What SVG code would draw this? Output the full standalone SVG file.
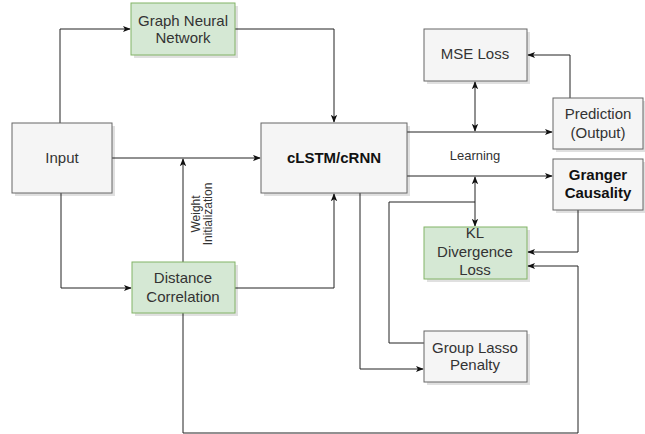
<svg xmlns="http://www.w3.org/2000/svg" width="645" height="434" viewBox="0 0 645 434">
<style>
.g rect.b{fill:#f5f5f5;stroke:#666666;stroke-width:1}
.gr rect.b{fill:#d5e8d4;stroke:#82b366;stroke-width:1}
rect.s{fill:#000;opacity:0.12}
text{font-family:"Liberation Sans",Arial,sans-serif;font-size:15px;fill:#333333;text-anchor:middle}
.bold{font-weight:bold;fill:#111}
.c{fill:none;stroke:#222;stroke-width:1}
.lbl{font-size:13px}
.sm{font-size:12px}
</style>
<defs>
<marker id="a" viewBox="0 0 10 10" refX="9" refY="5" markerWidth="8" markerHeight="8" orient="auto-start-reverse" markerUnits="userSpaceOnUse">
<path d="M0,1 L10,5 L0,9 L2.5,5 Z" fill="#111"/>
</marker>
</defs>
<rect width="645" height="434" fill="#ffffff"/>
<g id="connectors">
<path class="c" d="M60,123 V29 H130" marker-end="url(#a)"/>
<path class="c" d="M235,29 H334 V122" marker-end="url(#a)"/>
<path class="c" d="M112,158 H260" marker-end="url(#a)"/>
<path class="c" d="M183,262 V159" marker-end="url(#a)"/>
<path class="c" d="M61,193 V288 H131" marker-end="url(#a)"/>
<path class="c" d="M235,288 H334 V194" marker-end="url(#a)"/>
<path class="c" d="M183,313 V433 H578 V266 H528" marker-end="url(#a)"/>
<path class="c" d="M407,132 H552" marker-end="url(#a)"/>
<path class="c" d="M475,82 V131" marker-start="url(#a)" marker-end="url(#a)"/>
<path class="c" d="M570,98 V55 H528" marker-end="url(#a)"/>
<path class="c" d="M407,176 H552" marker-end="url(#a)"/>
<path class="c" d="M475,177 V226" marker-start="url(#a)" marker-end="url(#a)"/>
<path class="c" d="M424,343 H389 V202 H475"/>
<path class="c" d="M360,193 V369 H423" marker-end="url(#a)"/>
<path class="c" d="M578,210 V252 H528" marker-end="url(#a)"/>
<text class="lbl" x="475" y="160">Learning</text>
<g transform="translate(202,214) rotate(-90)">
<text class="sm" x="0" y="-2">Weight</text>
<text class="sm" x="0" y="10">Initialization</text>
</g>
</g>
<g id="gnn" class="gr">
<rect class="s" x="134" y="6" width="104" height="52"/>
<rect class="b" x="131" y="3" width="104" height="52"/>
<text x="183" y="26">Graph Neural</text>
<text x="183" y="43">Network</text>
</g>
<g id="input" class="g">
<rect class="s" x="15" y="126" width="100" height="70"/>
<rect class="b" x="12" y="123" width="100" height="70"/>
<text x="62" y="163">Input</text>
</g>
<g id="clstm" class="g">
<rect class="s" x="264" y="126" width="146" height="70"/>
<rect class="b" x="261" y="123" width="146" height="70"/>
<text class="bold" x="334" y="163">cLSTM/cRNN</text>
</g>
<g id="mse" class="g">
<rect class="s" x="427" y="32" width="103" height="52"/>
<rect class="b" x="424" y="29" width="103" height="52"/>
<text x="475" y="59">MSE Loss</text>
</g>
<g id="prediction" class="g">
<rect class="s" x="556" y="101" width="90" height="51"/>
<rect class="b" x="553" y="98" width="90" height="51"/>
<text x="598" y="119">Prediction</text>
<text x="598" y="138">(Output)</text>
</g>
<g id="granger" class="g">
<rect class="s" x="556" y="162" width="90" height="51"/>
<rect class="b" x="553" y="159" width="90" height="51"/>
<text class="bold" x="598" y="180">Granger</text>
<text class="bold" x="598" y="198">Causality</text>
</g>
<g id="kl" class="gr">
<rect class="s" x="427" y="230" width="103" height="52"/>
<rect class="b" x="424" y="227" width="103" height="52"/>
<text x="475" y="238">KL</text>
<text x="475" y="257">Divergence</text>
<text x="475" y="275">Loss</text>
</g>
<g id="lasso" class="g">
<rect class="s" x="427" y="334" width="103" height="51"/>
<rect class="b" x="424" y="331" width="103" height="51"/>
<text x="475" y="353">Group Lasso</text>
<text x="475" y="370">Penalty</text>
</g>
<g id="dcor" class="gr">
<rect class="s" x="135" y="265" width="103" height="51"/>
<rect class="b" x="132" y="262" width="103" height="51"/>
<text x="183" y="283">Distance</text>
<text x="183" y="302">Correlation</text>
</g>
</svg>
